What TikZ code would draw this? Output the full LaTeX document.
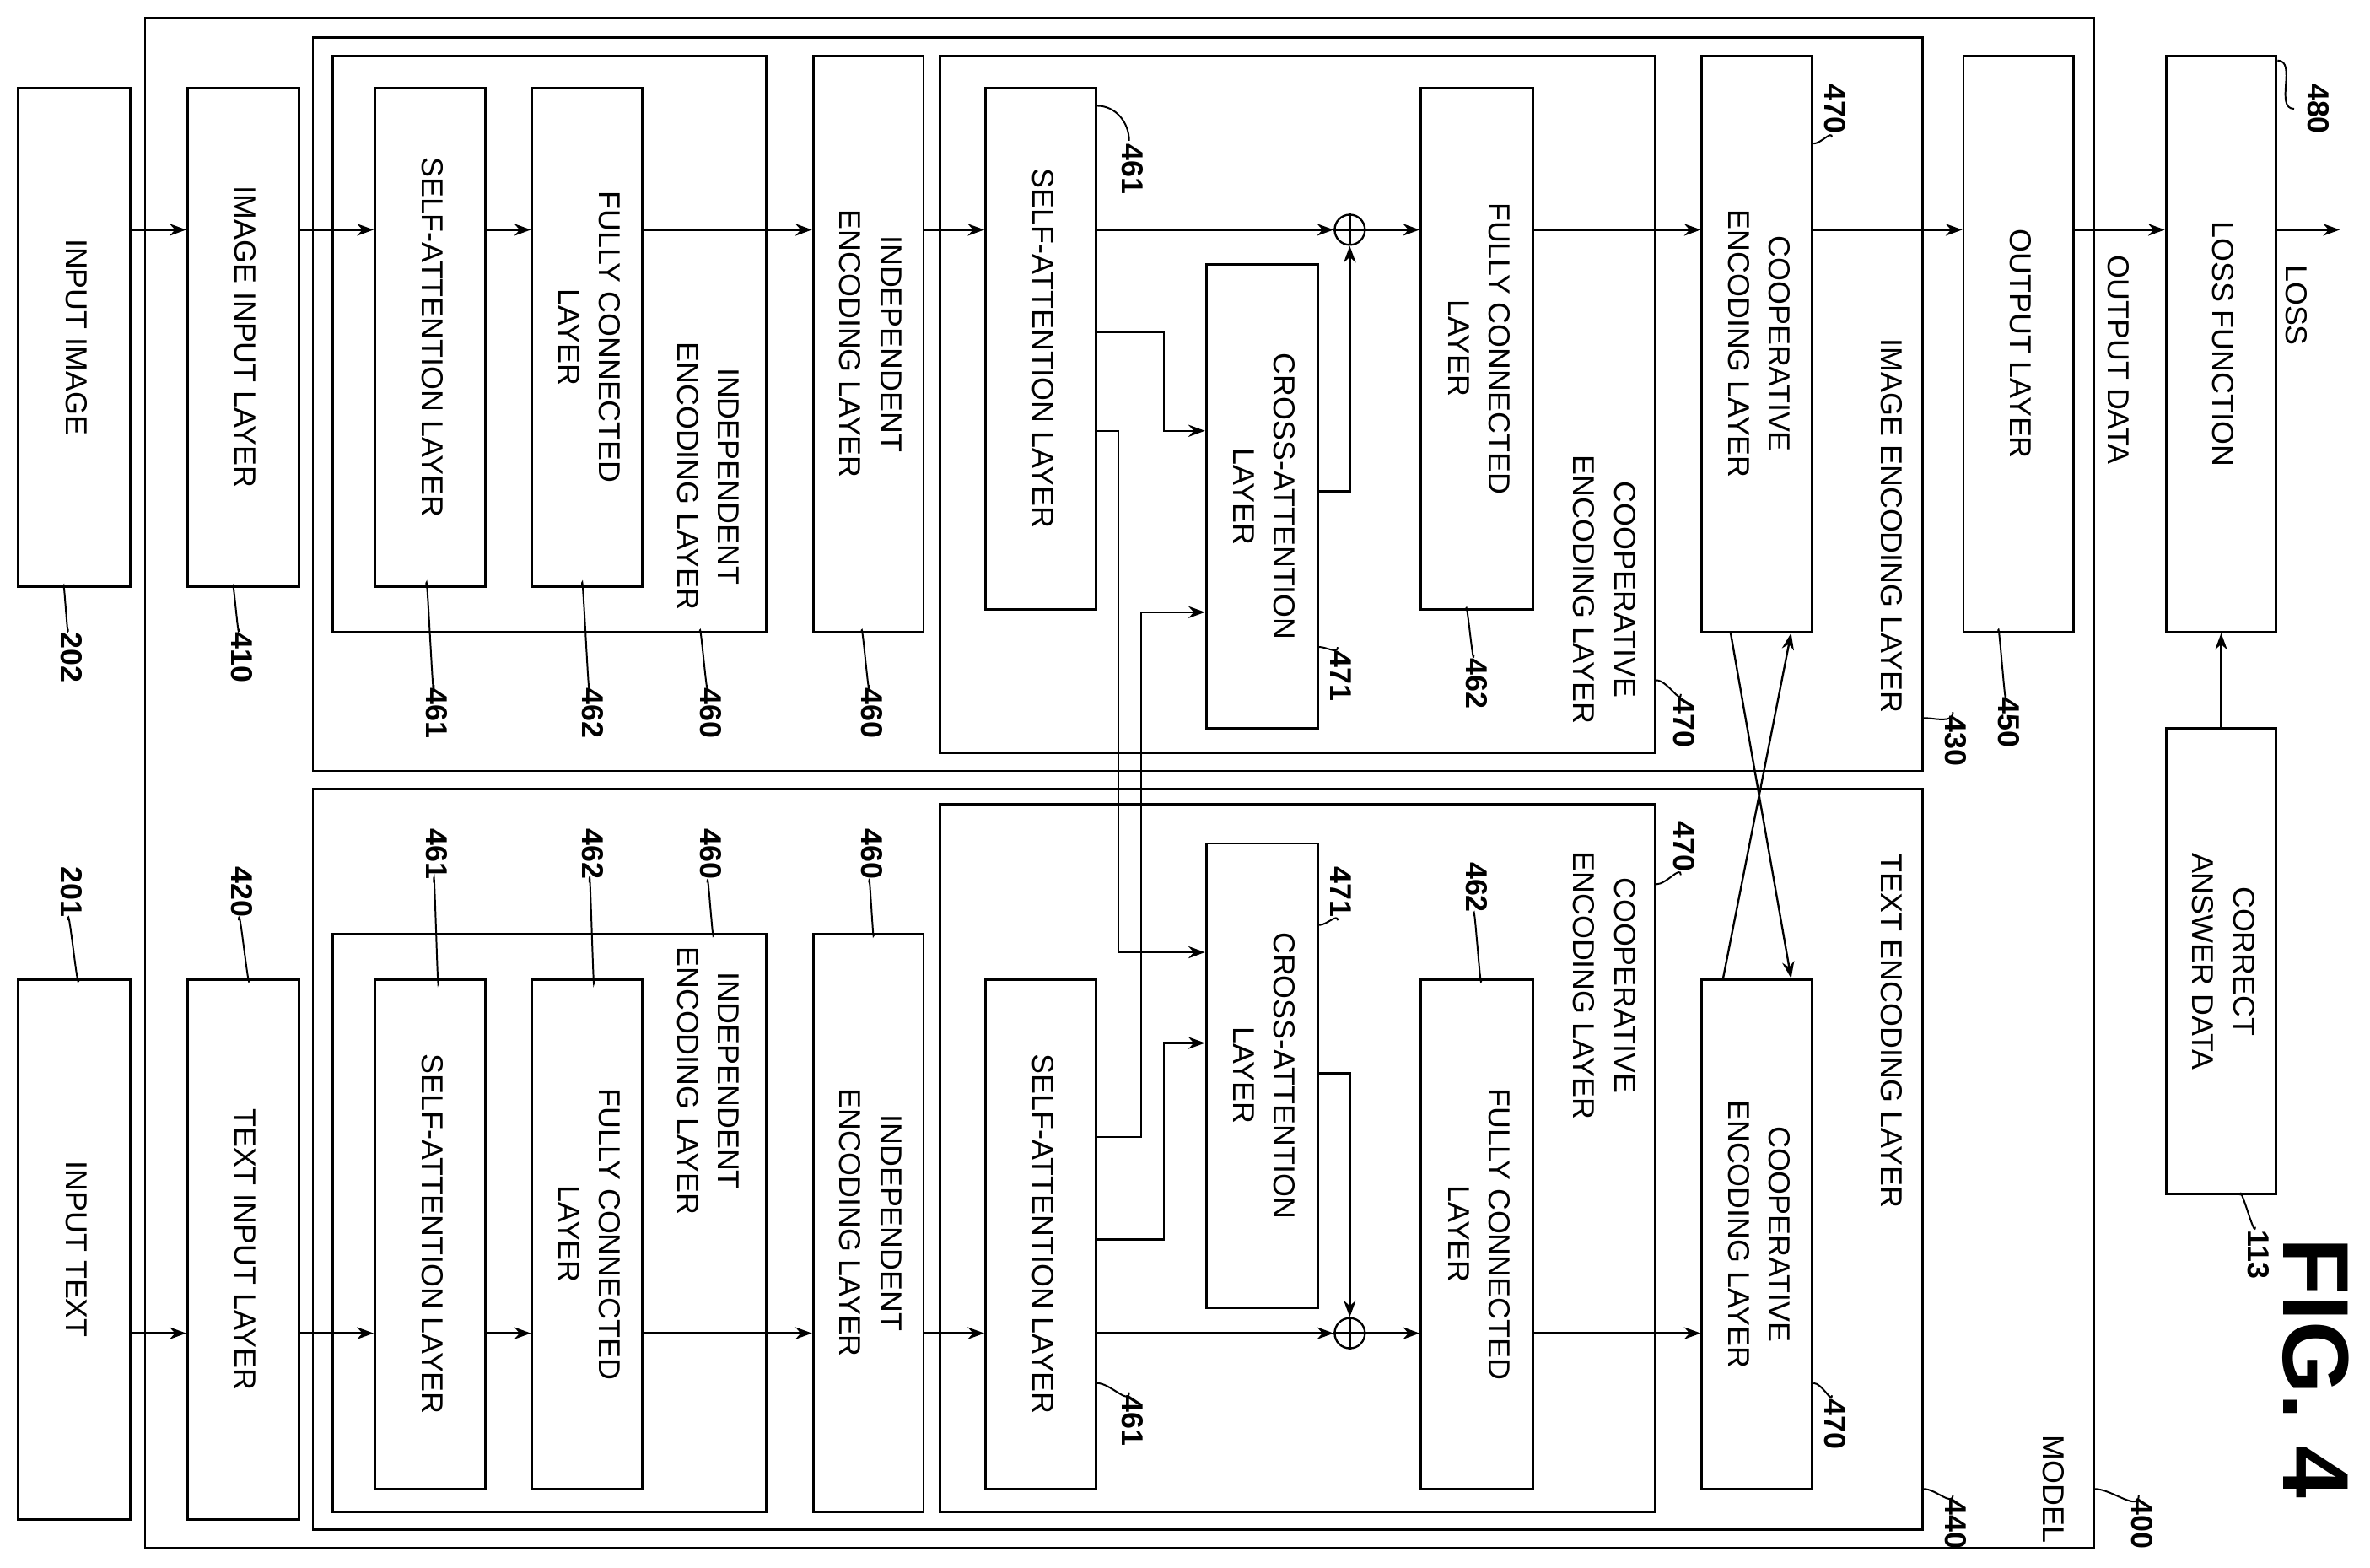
\documentclass[tikz,border=0pt]{standalone}
\usepackage{fontspec}
\setmainfont{Liberation Sans}
\usetikzlibrary{arrows.meta}
\newcommand{\vtxt}[1]{\rotatebox{-90}{\begin{tabular}{@{}c@{}}#1\end{tabular}}}
\begin{document}
\begin{tikzpicture}[x=1pt,y=1pt,yscale=-1,
  box/.style={draw,line width=1.6pt,inner sep=0pt,align=center},
  lbl/.style={inner sep=1pt,font=\fontsize{20}{27}\selectfont},
  num/.style={inner sep=2pt,font=\bfseries\fontsize{20}{24}\selectfont},
  arr/.style={line width=1.3pt,-{Stealth[length=11pt,width=8pt]}},
  ln/.style={line width=1.3pt},
  lead/.style={line width=1.1pt}]
\useasboundingbox (0,0) rectangle (1568,1037);
\tikzset{every node/.append style={font=\fontsize{20}{27}\selectfont}}

% outer boxes
\node[box,minimum width=1289,minimum height=1012] (model) at (740.5,518) {};
\node[box,minimum width=1065,minimum height=485] (iel) at (739.5,267.5) {};
\node[box,minimum width=1065,minimum height=490] (tel) at (739.5,767) {};

% inputs
\node[box,minimum width=74,minimum height=330] (ii) at (49,223) {\vtxt{INPUT IMAGE}};
\node[box,minimum width=74,minimum height=357] (it) at (49,826.5) {\vtxt{INPUT TEXT}};
\node[box,minimum width=74,minimum height=330] (iil) at (161,223) {\vtxt{IMAGE INPUT LAYER}};
\node[box,minimum width=74,minimum height=357] (til) at (161,826.5) {\vtxt{TEXT INPUT LAYER}};

% image side
\node[box,minimum width=287,minimum height=381] (ind1i) at (363.5,227.5) {};
\node[box,minimum width=73,minimum height=330] (sa1i) at (284.5,223) {\vtxt{SELF-ATTENTION LAYER}};
\node[box,minimum width=73,minimum height=330] (fc1i) at (388.5,223) {\vtxt{FULLY CONNECTED\\LAYER}};
\node[box,minimum width=73,minimum height=381] (ind2i) at (574.5,227.5) {\vtxt{INDEPENDENT\\ENCODING LAYER}};
\node[box,minimum width=473,minimum height=461] (coopi) at (858.5,267.5) {};
\node[box,minimum width=73,minimum height=345] (sa2i) at (688.5,230.5) {\vtxt{SELF-ATTENTION LAYER}};
\node[box,minimum width=74,minimum height=307] (cai) at (835,328.5) {\vtxt{CROSS-ATTENTION\\LAYER}};
\node[box,minimum width=74,minimum height=345] (fc2i) at (977,230.5) {\vtxt{FULLY CONNECTED\\LAYER}};
\node[box,minimum width=73,minimum height=381] (coop2i) at (1162.5,227.5) {\vtxt{COOPERATIVE\\ENCODING LAYER}};
\node[draw,circle,line width=1.3pt,minimum size=20pt,inner sep=0pt] (pi) at (893,152) {};

% text side
\node[box,minimum width=287,minimum height=382] (ind1t) at (363.5,809) {};
\node[box,minimum width=73,minimum height=337] (sa1t) at (284.5,816.5) {\vtxt{SELF-ATTENTION LAYER}};
\node[box,minimum width=73,minimum height=337] (fc1t) at (388.5,816.5) {\vtxt{FULLY CONNECTED\\LAYER}};
\node[box,minimum width=73,minimum height=382] (ind2t) at (574.5,809) {\vtxt{INDEPENDENT\\ENCODING LAYER}};
\node[box,minimum width=473,minimum height=468] (coopt) at (858.5,766) {};
\node[box,minimum width=73,minimum height=337] (sa2t) at (688.5,816.5) {\vtxt{SELF-ATTENTION LAYER}};
\node[box,minimum width=74,minimum height=307] (cat) at (835,711.5) {\vtxt{CROSS-ATTENTION\\LAYER}};
\node[box,minimum width=74,minimum height=337] (fc2t) at (977,816.5) {\vtxt{FULLY CONNECTED\\LAYER}};
\node[box,minimum width=73,minimum height=337] (coop2t) at (1162.5,816.5) {\vtxt{COOPERATIVE\\ENCODING LAYER}};
\node[draw,circle,line width=1.3pt,minimum size=20pt,inner sep=0pt] (pt) at (893,882) {};
\foreach \p in {pi,pt}{
  \draw[ln] (\p.north) -- (\p.south);
  \draw[ln] (\p.west) -- (\p.east);
}

% output and loss
\node[box,minimum width=73,minimum height=381] (out) at (1335.5,227.5) {\vtxt{OUTPUT LAYER}};
\node[box,minimum width=73,minimum height=381] (loss) at (1469.5,227.5) {\vtxt{LOSS FUNCTION}};
\node[box,minimum width=73,minimum height=308] (cad) at (1469.5,636) {\vtxt{CORRECT\\ANSWER DATA}};

% container labels
\node[lbl] (ind1il) at (467,315) {\vtxt{INDEPENDENT\\ENCODING LAYER}};
\node[lbl] (ind1tl) at (467,715) {\vtxt{INDEPENDENT\\ENCODING LAYER}};
\node[lbl] (coopil) at (1060,390) {\vtxt{COOPERATIVE\\ENCODING LAYER}};
\node[lbl] (coopl) at (1060,652) {\vtxt{COOPERATIVE\\ENCODING LAYER}};
\node[lbl] (iell) at (1250,348) {\vtxt{IMAGE ENCODING LAYER}};
\node[lbl] (tell) at (1250,682) {\vtxt{TEXT ENCODING LAYER}};
\node[lbl] (modl) at (1357,985) {\vtxt{MODEL}};
\node[lbl] (odl) at (1400,238) {\vtxt{OUTPUT DATA}};
\node[lbl] (lossl) at (1518,202) {\vtxt{LOSS}};
\node[inner sep=0pt,rotate=-90,font=\bfseries\fontsize{62}{62}\selectfont] (fig) at (1532,905) {FIG. 4};

% main image path
\coordinate (iy) at (0,152);
\draw[arr] (ii.east |- iy) -- (iil.west |- iy);
\draw[arr] (iil.east |- iy) -- (sa1i.west |- iy);
\draw[arr] (sa1i.east |- iy) -- (fc1i.west |- iy);
\draw[arr] (fc1i.east |- iy) -- (ind2i.west |- iy);
\draw[arr] (ind2i.east |- iy) -- (sa2i.west |- iy);
\draw[arr] (sa2i.east |- iy) -- (pi.west);
\draw[arr] (pi.east) -- (fc2i.west |- iy);
\draw[arr] (fc2i.east |- iy) -- (coop2i.west |- iy);
\draw[arr] (coop2i.east |- iy) -- (out.west |- iy);
\draw[arr] (out.east |- iy) -- (loss.west |- iy);
\coordinate (lossend) at (1548,152);
\draw[arr] (loss.east |- iy) -- (lossend);

% main text path
\coordinate (ty) at (0,882);
\draw[arr] (it.east |- ty) -- (til.west |- ty);
\draw[arr] (til.east |- ty) -- (sa1t.west |- ty);
\draw[arr] (sa1t.east |- ty) -- (fc1t.west |- ty);
\draw[arr] (fc1t.east |- ty) -- (ind2t.west |- ty);
\draw[arr] (ind2t.east |- ty) -- (sa2t.west |- ty);
\draw[arr] (sa2t.east |- ty) -- (pt.west);
\draw[arr] (pt.east) -- (fc2t.west |- ty);
\draw[arr] (fc2t.east |- ty) -- (coop2t.west |- ty);

% cross-attention wiring
\draw[arr] (sa2i.east |- 0,220) -| (770,285) -- (cai.west |- 0,285);
\draw[arr] (sa2i.east |- 0,285) -| (740,630) -- (cat.west |- 0,630);
\draw[arr] (sa2t.east |- 0,752) -| (755,405) -- (cai.west |- 0,405);
\draw[arr] (sa2t.east |- 0,820) -| (770,690) -- (cat.west |- 0,690);
\draw[arr] (cai.east |- 0,325) -| (pi.south);
\draw[arr] (cat.east |- 0,710) -| (pt.north);

% cooperative exchange
\draw[arr] (coop2i.south -| 1145,0) -- (coop2t.north -| 1185,0);
\draw[arr] (coop2t.north -| 1140,0) -- (coop2i.south -| 1185,0);
\draw[arr] (cad.north) -- (loss.south);

% reference numerals
\node[num] (n202) at (45,435) {\vtxt{202}};
\node[num] (n410) at (158,435) {\vtxt{410}};
\node[num] (n201) at (45,590) {\vtxt{201}};
\node[num] (n420) at (158,590) {\vtxt{420}};
\node[num] (n461a) at (287,472) {\vtxt{461}};
\node[num] (n462a) at (390,472) {\vtxt{462}};
\node[num] (n460a) at (468,472) {\vtxt{460}};
\node[num] (n460b) at (575,472) {\vtxt{460}};
\node[num] (n471a) at (885,447) {\vtxt{471}};
\node[num] (n462b) at (975,452) {\vtxt{462}};
\node[num] (n470a) at (1112,478) {\vtxt{470}};
\node[num] (n430) at (1292,490) {\vtxt{430}};
\node[num] (n450) at (1327,478) {\vtxt{450}};
\node[num] (n461b) at (747,112) {\vtxt{461}};
\node[num] (n470b) at (1212,72) {\vtxt{470}};
\node[num] (n480) at (1532,72) {\vtxt{480}};
\node[num] (n113) at (1492,830) {\vtxt{113}};
\node[num] (n400) at (1415,1008) {\vtxt{400}};
\node[num] (n440) at (1292,1008) {\vtxt{440}};
\node[num] (n461c) at (287,565) {\vtxt{461}};
\node[num] (n462c) at (390,565) {\vtxt{462}};
\node[num] (n460c) at (468,565) {\vtxt{460}};
\node[num] (n460d) at (575,565) {\vtxt{460}};
\node[num] (n471b) at (885,590) {\vtxt{471}};
\node[num] (n462d) at (975,587) {\vtxt{462}};
\node[num] (n470c) at (1112,560) {\vtxt{470}};
\node[num] (n461d) at (747,940) {\vtxt{461}};
\node[num] (n470d) at (1212,942) {\vtxt{470}};

% leaders
\draw[lead] (ii.south -| 42,0) to[out=-90,in=90] (n202.north);
\draw[lead] (iil.south -| 154,0) to[out=-90,in=90] (n410.north);
\draw[lead] (n201.south) to[out=-90,in=90] (it.north -| 52,0);
\draw[lead] (n420.south) to[out=-90,in=90] (til.north -| 165,0);
\draw[lead] (sa1i.south -| 282,0) to[out=-90,in=90] (n461a.north);
\draw[lead] (fc1i.south -| 385,0) to[out=-90,in=90] (n462a.north);
\draw[lead] (ind1i.south -| 463,0) to[out=-90,in=90] (n460a.north);
\draw[lead] (ind2i.south -| 570,0) to[out=-90,in=90] (n460b.north);
\draw[lead] (cai.east |- 0,428) to[out=0,in=90] (n471a.north);
\draw[lead] (fc2i.south -| 970,0) to[out=-90,in=90] (n462b.north);
\draw[lead] (coopi.east |- 0,450) to[out=0,in=90] (n470a.north);
\draw[lead] (iel.east |- 0,475) to[out=0,in=90] (n430.north);
\draw[lead] (out.south -| 1322,0) to[out=-90,in=90] (n450.north);
\draw[lead] (sa2i.east |- 0,70) to[out=0,in=-90] (n461b.north);
\draw[lead] (n470b.south) to[out=-90,in=0] (coop2i.east |- 0,95);
\draw[lead] (loss.east |- 0,40) to[out=0,in=180] (n480.west);
\draw[lead] (cad.south -| 1482,0) to[out=-90,in=90] (n113.north);
\draw[lead] (model.east |- 0,985) to[out=0,in=90] (n400.north);
\draw[lead] (tel.east |- 0,985) to[out=0,in=90] (n440.north);
\draw[lead] (n461c.south) to[out=-90,in=90] (sa1t.north -| 290,0);
\draw[lead] (n462c.south) to[out=-90,in=90] (fc1t.north -| 393,0);
\draw[lead] (n460c.south) to[out=-90,in=90] (ind1t.north -| 472,0);
\draw[lead] (n460d.south) to[out=-90,in=90] (ind2t.north -| 578,0);
\draw[lead] (n471b.south) to[out=-90,in=0] (cat.east |- 0,612);
\draw[lead] (n462d.south) to[out=-90,in=90] (fc2t.north -| 980,0);
\draw[lead] (n470c.south) to[out=-90,in=0] (coopt.east |- 0,585);
\draw[lead] (n461d.north) to[out=90,in=0] (sa2t.east |- 0,915);
\draw[lead] (n470d.north) to[out=90,in=0] (coop2t.east |- 0,915);
\end{tikzpicture}
\end{document}
